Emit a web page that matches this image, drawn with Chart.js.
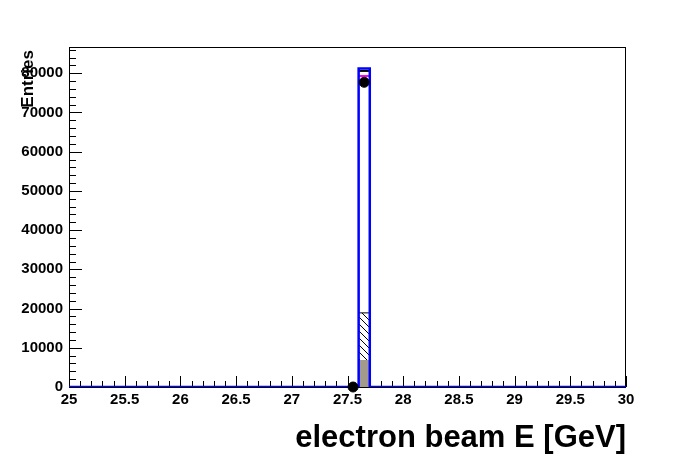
<!DOCTYPE html>
<html>
<head>
<meta charset="utf-8">
<script src="https://cdn.jsdelivr.net/npm/chart.js@4"></script>
<style>
  html, body { margin: 0; padding: 0; background: #fff; }
  #wrap { width: 696px; height: 472px; }
</style>
</head>
<body>
<div id="wrap"><canvas id="c"></canvas></div>
<script>
// histogram bin (only one bin is filled)
const binEdges = [27.6, 27.7];
const blueCounts = [81200];
const blackCounts = [80600];
const magentaCounts = [79300];
const hatchCounts = [18900];
const grayCounts = [6900];

// data points
const pointX = [27.55, 27.65];
const pointY = [0, 77700];

const xTicks = [25, 25.5, 26, 26.5, 27, 27.5, 28, 28.5, 29, 29.5, 30];
const yTicks = [0, 10000, 20000, 30000, 40000, 50000, 60000, 70000, 80000];

const xMin = 25, xMax = 30, yMax = 86700;

// outline of a histogram, baseline from xFrom to xTo
function stepPoints(edges, counts, base, xFrom, xTo) {
    const pts = [];
    if (xFrom !== undefined) pts.push({x: xFrom, y: base});
    for (let i = 0; i < counts.length; i++) {
        pts.push({x: edges[i], y: base});
        pts.push({x: edges[i], y: counts[i]});
        pts.push({x: edges[i + 1], y: counts[i]});
        pts.push({x: edges[i + 1], y: base});
    }
    if (xTo !== undefined) pts.push({x: xTo, y: base});
    return pts;
}

function topLine(edges, counts) {
    return [{x: edges[0], y: counts[0]}, {x: edges[1], y: counts[0]}];
}

// hatch pattern, lines going down to the right
function makeHatch() {
    const s = 7;
    const c = document.createElement('canvas');
    c.width = s; c.height = s;
    const g = c.getContext('2d');
    g.fillStyle = '#fff';
    g.fillRect(0, 0, s, s);
    g.strokeStyle = '#000';
    g.lineWidth = 1;
    g.beginPath();
    g.moveTo(-1, -1); g.lineTo(s + 1, s + 1);
    g.stroke();
    return g.createPattern(c, 'repeat');
}

const rootAxes = {
    id: 'rootAxes',
    beforeDatasetsDraw(chart) {
        const {ctx, chartArea: a, scales: {x, y}} = chart;
        ctx.save();
        ctx.strokeStyle = '#000';
        ctx.lineWidth = 1;
        ctx.strokeRect(a.left + 0.5, a.top + 0.5, a.right - a.left - 1, a.bottom - a.top);

        ctx.beginPath();
        // y ticks, pointing inside
        for (let v = 0; v <= yMax; v += 2000) {
            const py = Math.round(y.getPixelForValue(v)) + 0.5;
            const len = v % 10000 === 0 ? 13 : 7;
            ctx.moveTo(a.left, py);
            ctx.lineTo(a.left + len, py);
        }
        // x ticks, pointing up
        for (let i = 0; i <= 50; i++) {
            const v = xMin + i * 0.1;
            const px = Math.round(x.getPixelForValue(v)) + 0.5;
            const len = i % 5 === 0 ? 11 : 6;
            ctx.moveTo(px, a.bottom);
            ctx.lineTo(px, a.bottom - len);
        }
        ctx.stroke();
        ctx.restore();
    },
    afterDraw(chart) {
        const {ctx, chartArea: a} = chart;
        ctx.save();
        ctx.fillStyle = '#000';
        ctx.font = 'bold 31px "Liberation Sans", Arial, sans-serif';
        ctx.textAlign = 'right';
        ctx.textBaseline = 'alphabetic';
        ctx.fillText('electron beam E [GeV]', a.right, 447);

        ctx.font = 'bold 17px "Liberation Sans", Arial, sans-serif';
        ctx.translate(33, 50);
        ctx.rotate(-Math.PI / 2);
        ctx.textAlign = 'right';
        ctx.fillText('Entries', 0, 0);
        ctx.restore();
    }
};

const tickFont = {family: '"Liberation Sans", Arial, sans-serif', size: 15, weight: 'bold'};

new Chart(document.getElementById('c'), {
    type: 'line',
    data: {
        datasets: [
            {
                data: pointX.map((v, i) => ({x: v, y: pointY[i]})),
                showLine: false,
                pointRadius: 5,
                pointBackgroundColor: '#000',
                pointBorderColor: '#000',
                clip: false,
                order: 0
            },
            {
                data: stepPoints(binEdges, blueCounts, 0, xMin, xMax),
                borderColor: '#0000ff',
                borderWidth: 2.5,
                pointRadius: 0,
                fill: false,
                order: 1
            },
            {
                data: topLine(binEdges, blackCounts),
                borderColor: '#000',
                borderWidth: 2,
                pointRadius: 0,
                fill: false,
                order: 2
            },
            {
                data: topLine(binEdges, magentaCounts),
                borderColor: '#ff00ff',
                borderWidth: 2,
                pointRadius: 0,
                fill: false,
                order: 3
            },
            {
                data: topLine(binEdges, hatchCounts),
                borderColor: '#000',
                borderWidth: 1,
                pointRadius: 0,
                backgroundColor: makeHatch(),
                fill: {value: grayCounts[0]},
                order: 4
            },
            {
                data: topLine(binEdges, grayCounts),
                borderWidth: 0,
                borderColor: 'rgba(0,0,0,0)',
                pointRadius: 0,
                backgroundColor: '#a39a8e',
                fill: 'origin',
                order: 5
            }
        ]
    },
    options: {
        responsive: true,
        maintainAspectRatio: false,
        animation: false,
        layout: {padding: {top: 47, right: 70, left: 0, bottom: 0}},
        plugins: {
            legend: {display: false},
            tooltip: {enabled: false}
        },
        scales: {
            x: {
                type: 'linear',
                min: xMin,
                max: xMax,
                border: {display: false},
                grid: {display: false, drawTicks: false},
                afterBuildTicks: s => { s.ticks = xTicks.map(v => ({value: v})); },
                afterFit: s => { s.height = 85; },
                ticks: {
                    color: '#000',
                    font: tickFont,
                    padding: 4,
                    maxRotation: 0,
                    autoSkip: false,
                    callback: v => String(v)
                }
            },
            y: {
                min: 0,
                max: yMax,
                border: {display: false},
                grid: {display: false, drawTicks: false},
                afterBuildTicks: s => { s.ticks = yTicks.map(v => ({value: v})); },
                afterFit: s => { s.width = 69; },
                ticks: {
                    color: '#000',
                    font: tickFont,
                    padding: 6,
                    callback: v => String(v)
                }
            }
        }
    },
    plugins: [rootAxes]
});
</script>
</body>
</html>
